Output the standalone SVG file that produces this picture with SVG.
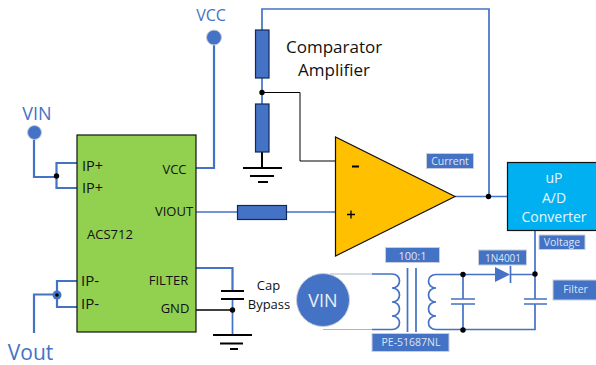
<svg xmlns="http://www.w3.org/2000/svg" width="596" height="365" viewBox="0 0 596 365">
<style>
text{font-family:"Open Sans","Noto Sans","Liberation Sans",sans-serif;fill:#111}
.m{text-anchor:middle}
.w{stroke:#4472C4;stroke-width:2.200;fill:none}
.t{stroke:#4472C4;stroke-width:1.700;fill:none}
.k{stroke:#000;stroke-width:2;fill:none}
.h{stroke:#000;stroke-width:1;fill:none}
.b{fill:#4472C4;stroke:#0F2A5A;stroke-width:1.200}
.j{fill:#000}
.pin{font-size:13px}
.blue{fill:#4472C4}
.lab{fill:#4472C4;stroke:#C8CEDC;stroke-width:1}
.lt{font-size:10.5px;fill:#DCE6F5;text-anchor:middle}
</style>
<g id="connectors">
<path class="w" d="M34 139V177H56"/>
<path class="w" d="M77 163H56.500V188H77"/>
<path class="w" d="M214 44V168H196"/>
<path class="w" d="M77 281H57V307H77"/>
<path class="w" d="M34 333V294.500H57"/>
<path class="t" d="M262 30V9H489V196"/>
<path class="t" d="M262 78V104"/>
<path class="k" d="M262 152V168"/>
<path class="h" d="M262 92.500H300V161H335"/>
<path class="t" d="M455 196.500H507"/>
<path class="t" d="M196 212H237M287 212H335"/>
<path class="w" d="M196 268H232.500V290"/>
<path class="t" d="M232.500 299V335"/>
<path class="h" d="M196 310H232.500" style="stroke-width:1.300"/>
<path class="t" d="M535 231V299M535 304V329.500H436M463 274.500V299M463 304V329.500"/>
<path class="t" d="M436 274.500H495M510 274.500H535"/>
<path class="t" d="M372 274H392M372 329.500H392"/>
<path d="M330 274H372M323 329.500H372" fill="none" stroke="#A9B4C8" stroke-width="1"/>
<path class="t" d="M392 274C402 274 402 288 392 288C402 288 402 302 392 302C402 302 402 316 392 316C402 316 402 329.500 392 329.500"/>
<path class="t" d="M407.500 268V332M416 268V332"/>
<path class="t" d="M436 274.500C426 274.500 426 288 436 288C426 288 426 302 436 302C426 302 426 316 436 316C426 316 426 329.500 436 329.500"/>
<path class="t" d="M451 299H475M451 304H475M524 299H547M524 304H547"/>
<path d="M495 267L510 274.500L495 282Z" fill="#4472C4"/>
<path class="t" d="M510.500 266V283"/>
</g>
<g id="vin-terminal"><circle cx="34.500" cy="132.500" r="7" fill="#4472C4" stroke="#C9CFDA"/><text class="m blue" x="37" y="120" font-size="18">VIN</text></g>
<g id="vcc-terminal"><circle cx="214" cy="37.500" r="7.500" fill="#4472C4" stroke="#C9CFDA"/><text class="m blue" x="211" y="21" font-size="16">VCC</text></g>
<g id="vout-label"><text class="m blue" x="30.500" y="360" font-size="21">Vout</text></g>
<g id="acs712">
<rect x="77" y="135" width="119" height="197" fill="#92D050" stroke="#111" stroke-width="1.200"/>
<text class="pin" x="82" y="171" style="font-size:14.500px">IP+</text>
<text class="pin" x="82" y="193" style="font-size:14.500px">IP+</text>
<text class="pin" x="81" y="286" style="font-size:15px">IP-</text>
<text class="pin" x="81" y="309" style="font-size:15px">IP-</text>
<text class="pin m" x="174.500" y="174">VCC</text>
<text class="pin m" x="174" y="216">VIOUT</text>
<text class="pin m" x="110" y="239">ACS712</text>
<text class="pin m" x="168.500" y="285">FILTER</text>
<text class="pin m" x="175" y="313">GND</text>
</g>
<g id="r1"><rect class="b" x="255.500" y="30" width="13.500" height="48"/></g>
<g id="r2"><rect class="b" x="255.500" y="104" width="13.500" height="48"/></g>
<g id="r3"><rect class="b" x="237.500" y="205.500" width="49" height="14"/></g>
<g id="gnd1"><path class="k" d="M243 168H282M250 176H274M258 182H268"/></g>
<g id="gnd2"><path class="k" d="M213 335H252M220 343.500H243M230 349H238"/></g>
<g id="cap-bypass">
<path class="k" d="M221 291H244M221 299H244"/>
<text class="m" x="268.500" y="290" font-size="13">Cap</text>
<text class="m" x="269" y="309" font-size="13">Bypass</text>
</g>
<g id="title"><text x="286" y="53" font-size="17">Comparator</text><text x="298" y="76" font-size="17">Amplifier</text></g>
<g id="opamp">
<path d="M335.500 137L335.500 256L455 196.500Z" fill="#FFC000" stroke="#111" stroke-width="1.200"/>
<path d="M352 166.500H359" stroke="#000" stroke-width="2"/>
<path d="M347 214.500H355M351 210.500V218.500" stroke="#000" stroke-width="1.300"/>
</g>
<g id="up"><rect x="507.500" y="162.500" width="90" height="68" fill="#00B0F0" stroke="#111" stroke-width="1.200"/>
<g font-size="14" text-anchor="middle"><text style="fill:#E8F6FD" x="554" y="183">uP</text><text style="fill:#E8F6FD" x="554" y="203">A/D</text><text style="fill:#E8F6FD" x="554" y="221.500">Converter</text></g></g>
<g id="vin-source"><circle cx="323" cy="300" r="26.500" fill="#4472C4" stroke="#C9CFDA"/><text class="m" style="fill:#E8EEF8" x="323" y="306.500" font-size="18">VIN</text></g>
<g id="label-current"><rect class="lab" x="426.500" y="153.500" width="47" height="15"/><text class="lt" x="450" y="165">Current</text></g>
<g id="label-voltage"><rect class="lab" x="539" y="235" width="46" height="14.500"/><text class="lt" x="562" y="246">Voltage</text></g>
<g id="label-filter"><rect class="lab" x="553" y="280" width="44" height="20"/><text class="lt" x="575.500" y="293">Filter</text></g>
<g id="label-ratio"><rect class="lab" x="385.500" y="247.500" width="54" height="15"/><text class="lt" x="412.500" y="260" style="font-size:11px">100:1</text></g>
<g id="label-diode"><rect class="lab" x="478.500" y="250" width="48" height="15"/><text class="lt" x="503" y="262" style="font-size:10px">1N4001</text></g>
<g id="label-xfmr"><rect class="lab" x="372" y="333.500" width="77" height="18"/><text class="lt" x="411" y="346">PE-51687NL</text></g>
<g id="junctions">
<circle class="j" cx="56.500" cy="176" r="2.700"/>
<circle cx="57" cy="295" r="4.500" fill="#4472C4"/><circle class="j" cx="57" cy="295" r="1.800"/>
<circle class="j" cx="262" cy="92.500" r="2.700"/>
<circle class="j" cx="232.500" cy="310" r="2.700"/>
<circle class="j" cx="488.500" cy="196.500" r="2.700"/>
<circle class="j" cx="463" cy="274.500" r="2.700"/>
<circle class="j" cx="463" cy="330" r="2.700"/>
<circle class="j" cx="535" cy="274" r="2.700"/>
</g>
</svg>
